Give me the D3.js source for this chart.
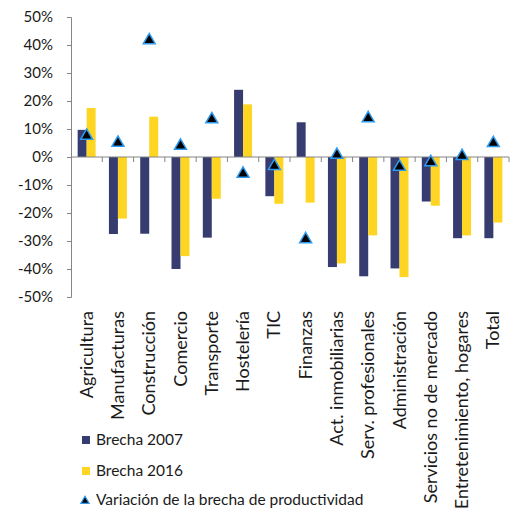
<!DOCTYPE html>
<html>
<head>
<meta charset="utf-8">
<script src="https://cdn.jsdelivr.net/npm/d3@7"></script>
<style>
  body { margin: 0; background: #fff; }
  svg text { font-family: Lato, "Open Sans", sans-serif; fill: #1a1a1a; }
</style>
</head>
<body>
<svg id="chart" width="513" height="515"></svg>
<script>
// Sector productivity gaps
const categories = ["Agricultura", "Manufacturas", "Construcción", "Comercio", "Transporte",
  "Hostelería", "TIC", "Finanzas", "Act. inmobiliarias", "Serv. profesionales",
  "Administración", "Servicios no de mercado", "Entretenimiento, hogares", "Total"];
const brecha2007 = [9.7, -27.5, -27.4, -40.0, -28.8, 24.0, -14.0, 12.4, -39.3, -42.6, -39.8, -15.9, -29.0, -29.0];
const brecha2016 = [17.5, -22.0, 14.4, -35.4, -14.9, 18.8, -16.7, -16.3, -38.0, -28.0, -42.9, -17.4, -28.0, -23.4];
const variacion = [7.9, 5.4, 42.0, 4.4, 13.8, -5.6, -2.9, -29.0, 1.1, 14.2, -3.1, -1.5, 0.7, 5.3];
const yTicks = [-50, -40, -30, -20, -10, 0, 10, 20, 30, 40, 50];

const seriesNames = ["Brecha 2007", "Brecha 2016", "Variación de la brecha de productividad"];
const colors = { b2007: "#363B70", b2016: "#FFD524", triFill: "#000000", triStroke: "#2E9BF0" };

const svg = d3.select("#chart");
const x = d3.scaleBand().domain(categories).range([71, 509]).paddingInner(0).paddingOuter(0);
const y = d3.scaleLinear().domain([-50, 50]).range([297, 17]);
const sub = d3.scaleBand().domain(["b2007", "b2016"]).range([0, x.bandwidth()]).paddingInner(0).paddingOuter(0.74);

// Bars
const groups = svg.append("g").selectAll("g").data(categories).join("g")
  .attr("transform", d => `translate(${x(d)},0)`);
groups.append("rect")
  .attr("x", sub("b2007")).attr("width", sub.bandwidth())
  .attr("y", (d, i) => y(Math.max(0, brecha2007[i])))
  .attr("height", (d, i) => Math.abs(y(brecha2007[i]) - y(0)))
  .attr("fill", colors.b2007);
groups.append("rect")
  .attr("x", sub("b2016")).attr("width", sub.bandwidth())
  .attr("y", (d, i) => y(Math.max(0, brecha2016[i])))
  .attr("height", (d, i) => Math.abs(y(brecha2016[i]) - y(0)))
  .attr("fill", colors.b2016);

// Y axis
const yAxis = svg.append("g").attr("transform", "translate(71,0)")
  .call(d3.axisLeft(y).tickValues(yTicks).tickSize(4).tickPadding(14).tickFormat(d => d + "%"));
yAxis.selectAll("text").style("font-size", "15px");
yAxis.select(".domain").attr("stroke", "#868686");
yAxis.selectAll(".tick line").attr("stroke", "#868686");

// Zero baseline with category separators
const xAxis = svg.append("g").attr("transform", `translate(0,${y(0)})`);
xAxis.append("line").attr("x1", 71).attr("x2", 509).attr("stroke", "#868686").attr("stroke-width", 1.2);
xAxis.selectAll("line.sep").data(categories).join("line").attr("class", "sep")
  .attr("x1", d => x(d) + x.bandwidth()).attr("x2", d => x(d) + x.bandwidth())
  .attr("y1", 0).attr("y2", 5).attr("stroke", "#868686");

// Category labels (vertical)
svg.append("g").selectAll("text").data(categories).join("text")
  .attr("transform", d => `translate(${x(d) + x.bandwidth() / 2 + 6},311) rotate(-90)`)
  .attr("text-anchor", "end")
  .style("font-size", "18px")
  .text(d => d);

// Triangle markers
const tri = d3.symbol().type(d3.symbolTriangle).size(62);
svg.append("g").selectAll("path").data(categories).join("path")
  .attr("d", tri)
  .attr("transform", (d, i) => `translate(${x(d) + x.bandwidth() / 2},${y(variacion[i]) + 1})`)
  .attr("fill", colors.triFill)
  .attr("stroke", colors.triStroke).attr("stroke-width", 1.5);

// Legend
const legend = svg.append("g");
const items = [
  { name: seriesNames[0], key: "b2007", y: 440 },
  { name: seriesNames[1], key: "b2016", y: 471 },
  { name: seriesNames[2], key: "tri", y: 500 }
];
items.forEach(it => {
  if (it.key === "tri") {
    legend.append("path").attr("d", d3.symbol().type(d3.symbolTriangle).size(30))
      .attr("transform", `translate(85,${it.y + 1})`)
      .attr("fill", colors.triFill).attr("stroke", colors.triStroke).attr("stroke-width", 1.2);
  } else {
    legend.append("rect").attr("x", 82).attr("y", it.y - 4).attr("width", 8).attr("height", 8)
      .attr("fill", colors[it.key]);
  }
  legend.append("text").attr("x", 96).attr("y", it.y).attr("dy", "0.35em")
    .style("font-size", "15.5px").text(it.name);
});
</script>
</body>
</html>
